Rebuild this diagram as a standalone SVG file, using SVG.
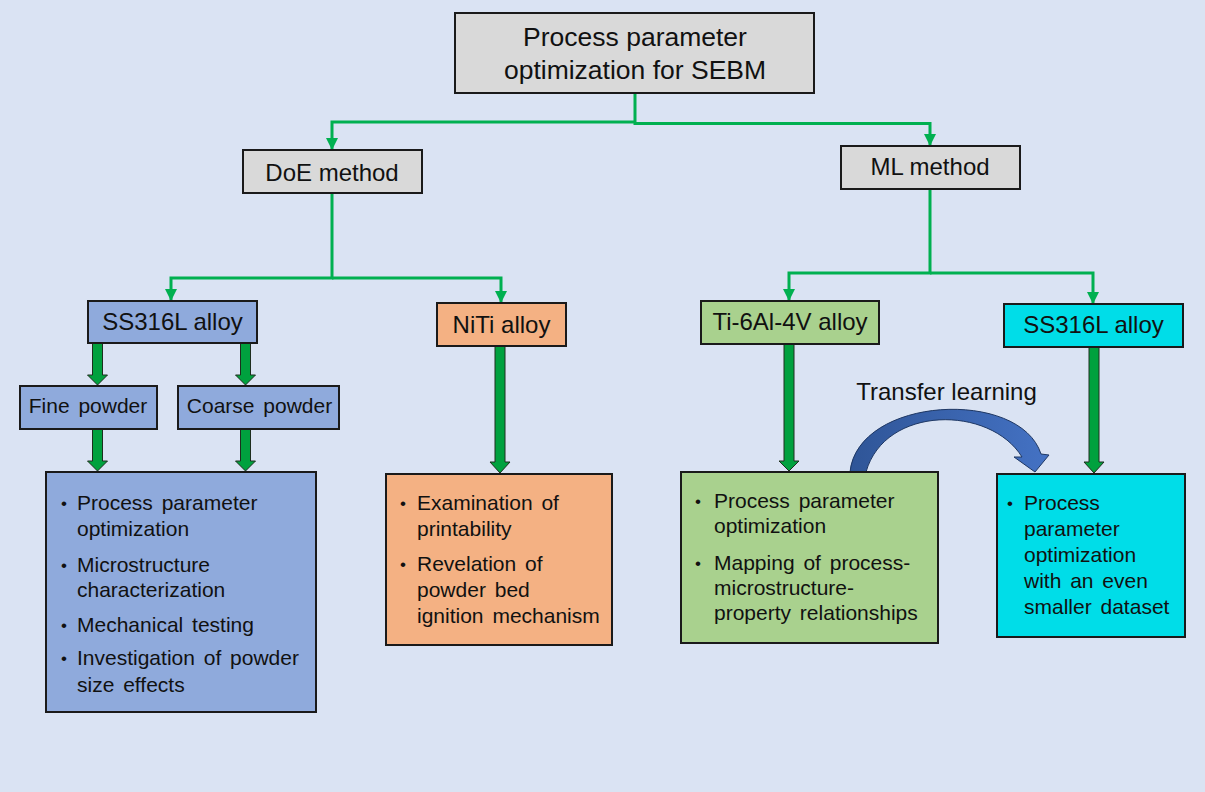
<svg xmlns="http://www.w3.org/2000/svg" width="1205" height="792" viewBox="0 0 1205 792">
<defs>
<style>
.box{stroke:#1a1a1a;stroke-width:2}
.gray{fill:#d9d9d9}
.blue{fill:#8faadc}
.orange{fill:#f4b183}
.green{fill:#a9d18e}
.cyan{fill:#00dde8}
text{font-family:"Liberation Sans",Arial,sans-serif;fill:#111}
.t26{font-size:26.5px;text-anchor:middle}
.t24{font-size:24px;text-anchor:middle}
.t21c{font-size:21px;text-anchor:middle;word-spacing:3px}
.b{font-size:21px;word-spacing:3px}
.d{font-size:17px}
.conn{fill:none;stroke:#00b050;stroke-width:3}
.blk{fill:#00a13e;stroke:#1e2e1e;stroke-width:1}
</style>
<marker id="ah" markerUnits="userSpaceOnUse" markerWidth="12" markerHeight="12" viewBox="0 0 12 12" refX="12" refY="6" orient="auto">
<path d="M0,0 L12,6 L0,12 z" fill="#00b050"/>
</marker>
<linearGradient id="cg" x1="0" y1="0" x2="1" y2="0">
<stop offset="0" stop-color="#2f5597"/>
<stop offset="1" stop-color="#4472c4"/>
</linearGradient>
</defs>
<rect x="0" y="0" width="1205" height="792" fill="#dae3f3"/>

<g id="connectors">
<path class="conn" d="M635,93 V122 H332 V150" marker-end="url(#ah)"/>
<path class="conn" d="M635,122 V123.5 H930 V146" marker-end="url(#ah)"/>
<path class="conn" d="M332,193 V278 H171 V301" marker-end="url(#ah)"/>
<path class="conn" d="M332,278 H501 V303" marker-end="url(#ah)"/>
<path class="conn" d="M930,189 V273 H789 V301" marker-end="url(#ah)"/>
<path class="conn" d="M930,273 H1093 V304" marker-end="url(#ah)"/>
<polygon class="blk" points="92.5,343 102.5,343 102.5,375 107.5,375 97.5,385 87.5,375 92.5,375"/>
<polygon class="blk" points="240.5,343 250.5,343 250.5,375 255.5,375 245.5,385 235.5,375 240.5,375"/>
<polygon class="blk" points="92.5,429 102.5,429 102.5,461 107.5,461 97.5,471 87.5,461 92.5,461"/>
<polygon class="blk" points="240.5,429 250.5,429 250.5,461 255.5,461 245.5,471 235.5,461 240.5,461"/>
<polygon class="blk" points="495,346 505,346 505,462 510,462 500,473 490,462 495,462"/>
<polygon class="blk" points="784,344 794,344 794,461 799,461 789,471 779,461 784,461"/>
<polygon class="blk" points="1089,347 1099,347 1099,462 1104,462 1094,473 1084,462 1089,462"/>
<path d="M850,472 C858,396 1020,388 1041,454 L1049,455 L1035,472 L1014,457 L1022,457 C990,405 885,405 866,472 Z" fill="url(#cg)" stroke="#1f3864" stroke-width="1"/>
</g>

<g id="node-root">
<rect class="box gray" x="455" y="13" width="359" height="80"/>
<text class="t26" x="635" y="46">Process parameter</text>
<text class="t26" x="635" y="79">optimization for SEBM</text>
</g>

<g id="node-doe">
<rect class="box gray" x="243" y="150" width="179" height="43"/>
<text class="t24" x="332" y="181">DoE method</text>
</g>

<g id="node-ml">
<rect class="box gray" x="841" y="146" width="179" height="43"/>
<text class="t24" x="930" y="175">ML method</text>
</g>

<g id="node-ss316l-doe">
<rect class="box blue" x="88" y="301" width="169" height="42"/>
<text class="t24" x="172.5" y="330">SS316L alloy</text>
</g>

<g id="node-fine">
<rect class="box blue" x="20" y="386" width="137" height="43"/>
<text class="t21c" x="88" y="413">Fine powder</text>
</g>

<g id="node-coarse">
<rect class="box blue" x="178" y="386" width="161" height="43"/>
<text class="t21c" x="259.5" y="413">Coarse powder</text>
</g>

<g id="node-ss316l-doe-tasks">
<rect class="box blue" x="46" y="472" width="270" height="240"/>
<text class="d" x="61" y="509">•</text>
<text class="b" x="77" y="510">Process parameter</text>
<text class="b" x="77" y="536">optimization</text>
<text class="d" x="61" y="571">•</text>
<text class="b" x="77" y="572">Microstructure</text>
<text class="b" x="77" y="597">characterization</text>
<text class="d" x="61" y="631">•</text>
<text class="b" x="77" y="632">Mechanical testing</text>
<text class="d" x="61" y="664">•</text>
<text class="b" x="77" y="665">Investigation of powder</text>
<text class="b" x="77" y="692">size effects</text>
</g>

<g id="node-niti">
<rect class="box orange" x="437" y="303" width="129" height="43"/>
<text class="t24" x="501.5" y="333">NiTi alloy</text>
</g>

<g id="node-niti-tasks">
<rect class="box orange" x="386" y="474" width="226" height="171"/>
<text class="d" x="400" y="509">•</text>
<text class="b" x="417" y="510">Examination of</text>
<text class="b" x="417" y="536">printability</text>
<text class="d" x="400" y="570">•</text>
<text class="b" x="417" y="571">Revelation of</text>
<text class="b" x="417" y="597">powder bed</text>
<text class="b" x="417" y="623">ignition mechanism</text>
</g>

<g id="node-ti64">
<rect class="box green" x="701" y="301" width="178" height="43"/>
<text class="t24" x="790" y="330">Ti-6Al-4V alloy</text>
</g>

<g id="node-ti64-tasks">
<rect class="box green" x="681" y="472" width="257" height="171"/>
<text class="d" x="695" y="507">•</text>
<text class="b" x="714" y="508">Process parameter</text>
<text class="b" x="714" y="533">optimization</text>
<text class="d" x="695" y="569">•</text>
<text class="b" x="714" y="570">Mapping of process-</text>
<text class="b" x="714" y="595">microstructure-</text>
<text class="b" x="714" y="620">property relationships</text>
</g>

<g id="node-ss316l-ml">
<rect class="box cyan" x="1004" y="304" width="179" height="43"/>
<text class="t24" x="1093.5" y="333">SS316L alloy</text>
</g>

<g id="node-ss316l-ml-tasks">
<rect class="box cyan" x="997" y="474" width="188" height="163"/>
<text class="d" x="1007" y="509">•</text>
<text class="b" x="1024" y="510">Process</text>
<text class="b" x="1024" y="536">parameter</text>
<text class="b" x="1024" y="562">optimization</text>
<text class="b" x="1024" y="588">with an even</text>
<text class="b" x="1024" y="614">smaller dataset</text>
</g>

<g id="label-transfer">
<text x="946.5" y="400" style="font-size:24px;text-anchor:middle">Transfer learning</text>
</g>
</svg>
